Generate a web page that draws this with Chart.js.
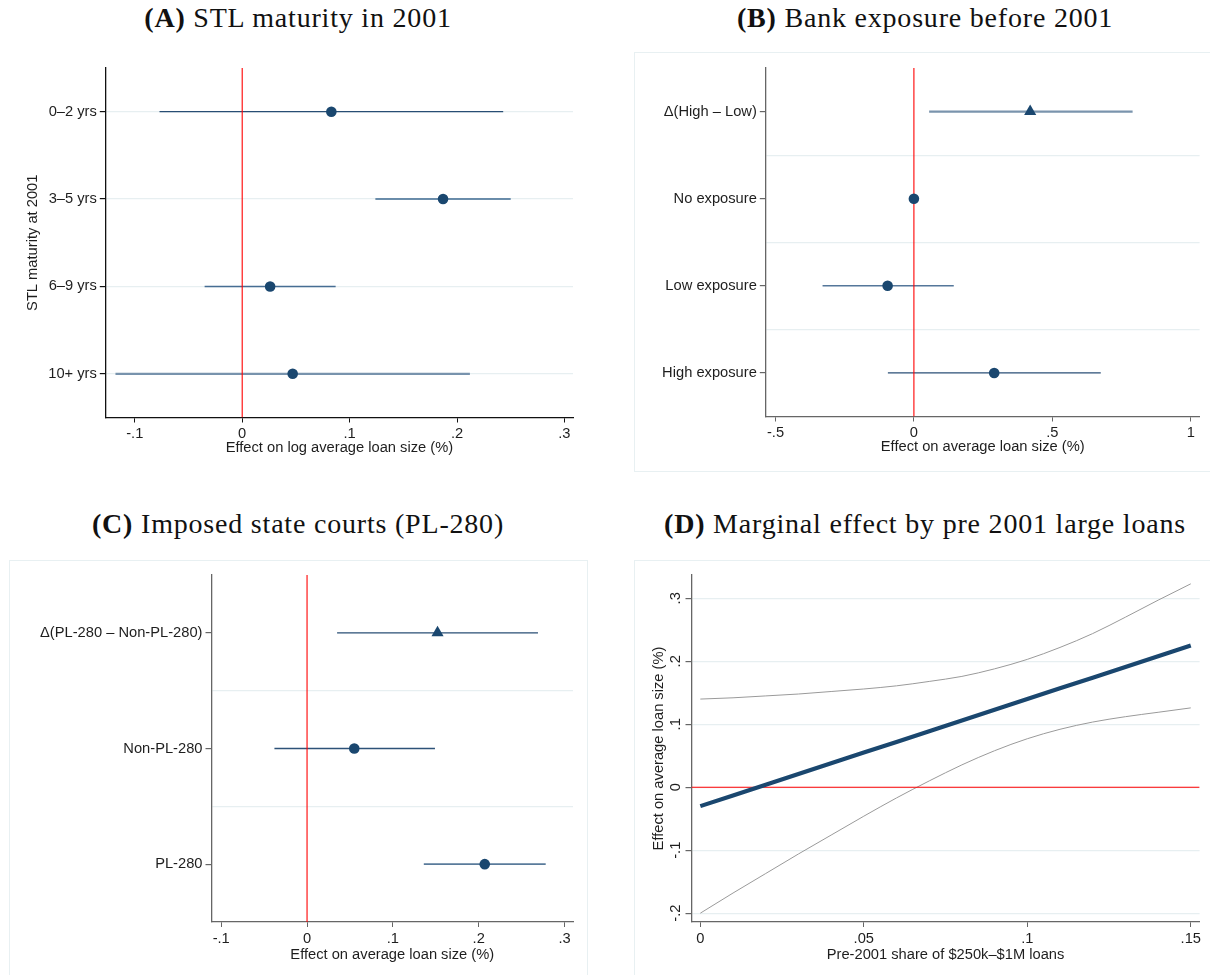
<!DOCTYPE html>
<html>
<head>
<meta charset="utf-8">
<script src="https://cdn.jsdelivr.net/npm/chart.js@4.4.1/dist/chart.umd.min.js"></script>
<style>
  html, body { margin: 0; padding: 0; background: #fff; }
  body { width: 1210px; height: 975px; position: relative; overflow: hidden; }
  .panel { position: absolute; }
  .boxed { outline: 1px solid #e8f0f2; outline-offset: -1px; }
  .title {
    position: absolute; white-space: nowrap; transform: translateX(-50%);
    font-family: "Liberation Serif", "DejaVu Serif", serif; font-size: 28px; line-height: 28px;
    letter-spacing: 0.8px; color: #111;
  }
  .title b { font-weight: bold; }
  canvas { display: block; }
</style>
</head>
<body>
<div class="title" style="left:298px; top:4px;"><b>(A)</b> STL maturity in 2001</div>
<div class="title" style="left:925px; top:4px;"><b>(B)</b> Bank exposure before 2001</div>
<div class="title" style="left:298px; top:510px;"><b>(C)</b> Imposed state courts (PL-280)</div>
<div class="title" style="left:925px; top:510px;"><b>(D)</b> Marginal effect by pre 2001 large loans</div>

<div class="panel" style="left:0px; top:40px; width:600px; height:440px;"><canvas id="cA" width="600" height="440"></canvas></div>
<div class="panel boxed" style="left:634px; top:52px; width:578px; height:420px;"><canvas id="cB" width="576" height="420"></canvas></div>
<div class="panel boxed" style="left:9px; top:560px; width:579px; height:420px;"><canvas id="cC" width="579" height="415"></canvas></div>
<div class="panel boxed" style="left:634px; top:560px; width:578px; height:420px;"><canvas id="cD" width="576" height="415"></canvas></div>

<script>
// ---- Panel A: STL maturity in 2001 ----
const stlLabels = ['0–2 yrs', '3–5 yrs', '6–9 yrs', '10+ yrs'];
const stlCoef   = [0.083, 0.187, 0.026, 0.047];
const stlLow    = [-0.077, 0.124, -0.035, -0.118];
const stlHigh   = [0.243, 0.250, 0.087, 0.212];
const stlTicks  = [-0.1, 0, 0.1, 0.2, 0.3];

// ---- Panel B: Bank exposure before 2001 ----
const expLabels = ['Δ(High – Low)', 'No exposure', 'Low exposure', 'High exposure'];
const expCoef   = [0.42, 0, -0.095, 0.29];
const expLow    = [0.055, 0, -0.33, -0.094];
const expHigh   = [0.79, 0, 0.144, 0.675];
const expTicks  = [-0.5, 0, 0.5, 1];

// ---- Panel C: Imposed state courts (PL-280) ----
const plLabels = ['Δ(PL-280 – Non-PL-280)', 'Non-PL-280', 'PL-280'];
const plCoef   = [0.152, 0.055, 0.207];
const plLow    = [0.035, -0.038, 0.136];
const plHigh   = [0.269, 0.149, 0.278];
const plTicks  = [-0.1, 0, 0.1, 0.2, 0.3];

// ---- Panel D: marginal effect along pre-2001 share of large loans ----
const shareX   = [0, 0.01, 0.02, 0.03, 0.04, 0.05, 0.06, 0.07, 0.08, 0.09, 0.10, 0.11, 0.12, 0.13, 0.14, 0.15];
const margEff  = [-0.030, -0.013, 0.004, 0.021, 0.038, 0.055, 0.072, 0.089, 0.106, 0.123, 0.140, 0.157, 0.174, 0.191, 0.208, 0.225];
const margHigh = [0.140, 0.142, 0.145, 0.148, 0.152, 0.156, 0.161, 0.168, 0.176, 0.188, 0.203, 0.222, 0.244, 0.270, 0.297, 0.323];
const margLow  = [-0.200, -0.168, -0.137, -0.106, -0.076, -0.046, -0.017, 0.010, 0.0355, 0.058, 0.077, 0.092, 0.1035, 0.112, 0.119, 0.126];
const shareTicks = [0, 0.05, 0.1, 0.15];
const effTicks   = [-0.2, -0.1, 0, 0.1, 0.2, 0.3];

const NAVY = '#1a476f';
const RED = '#ff0000';
const AXIS_FONT = { family: '"Liberation Sans", Arial, sans-serif', size: 14.7 };
const TICK_COLOR = '#1e1e1e';

// Stata-style number labels: .1, -.1, 0, .05
function stataNum(v) {
  const r = Math.round(v * 1000) / 1000;
  if (r === 0) return '0';
  return String(r).replace(/^(-?)0\./, '$1.');
}

function fixTicks(values) {
  return function (scale) { scale.ticks = values.map(v => ({ value: v })); };
}

function forestChart(id, opts) {
  const n = opts.labels.length;
  const datasets = [];
  // markers on top
  datasets.push({
    data: opts.coef.map((c, i) => ({ x: c, y: i + 1 })),
    pointStyle: opts.coef.map((c, i) => (opts.triangleRows || []).includes(i) ? 'triangle' : 'circle'),
    pointRadius: opts.coef.map((c, i) => (opts.triangleRows || []).includes(i) ? 7 : 5.3),
    backgroundColor: NAVY, borderColor: NAVY, borderWidth: 0,
    showLine: false, order: 0
  });
  // zero reference line
  datasets.push({
    data: [{ x: 0, y: 0.5 }, { x: 0, y: n + 0.5 }],
    showLine: true, borderColor: RED, borderWidth: 1.1, pointRadius: 0, order: 1
  });
  // confidence intervals
  opts.low.forEach((lo, i) => {
    if (lo === opts.high[i]) return;
    datasets.push({
      data: [{ x: lo, y: i + 1 }, { x: opts.high[i], y: i + 1 }],
      showLine: true, borderColor: opts.ciColors[i], borderWidth: opts.ciWidths[i],
      pointRadius: 0, order: 2
    });
  });

  const yTickVals = [];
  for (let k = 0; k <= 2 * n; k++) yTickVals.push(0.5 + k / 2);
  const midGrid = !!opts.midGrid;

  return new Chart(document.getElementById(id), {
    type: 'scatter',
    data: { datasets },
    options: {
      responsive: false, animation: false, devicePixelRatio: 1,
      layout: { padding: { top: opts.padTop, right: opts.padRight, left: 0, bottom: 0 } },
      plugins: { legend: { display: false }, tooltip: { enabled: false } },
      scales: {
        x: {
          type: 'linear', min: opts.xMin, max: opts.xMax,
          afterBuildTicks: fixTicks(opts.xTicks),
          afterFit: s => { s.height = opts.xAxisHeight; },
          border: { color: opts.axisColor, width: 1.3 },
          grid: { drawOnChartArea: false, drawTicks: true, tickLength: 5, tickColor: opts.axisColor, tickWidth: 1 },
          ticks: { callback: v => stataNum(v), font: AXIS_FONT, color: TICK_COLOR, padding: 3, maxRotation: 0 },
          title: { display: true, text: opts.xTitle, font: AXIS_FONT, color: TICK_COLOR, padding: { top: 0, bottom: opts.xTitlePad } }
        },
        y: {
          type: 'linear', reverse: true, min: 0.5, max: n + 0.5,
          afterBuildTicks: fixTicks(yTickVals),
          afterFit: s => { s.width = opts.yAxisWidth; },
          border: { color: opts.axisColor, width: 1.3 },
          grid: {
            drawTicks: true, tickLength: 6,
            color: ctx => {
              const v = ctx.tick ? ctx.tick.value : 0;
              if (v <= 0.5 || v >= n + 0.5) return 'rgba(0,0,0,0)';
              const isCat = Number.isInteger(v);
              return (midGrid ? !isCat : isCat) ? '#e7eff1' : 'rgba(0,0,0,0)';
            },
            tickColor: ctx => (ctx.tick && Number.isInteger(ctx.tick.value)) ? opts.axisColor : 'rgba(0,0,0,0)',
            lineWidth: 1.2
          },
          ticks: {
            callback: v => Number.isInteger(v) ? opts.labels[v - 1] : '',
            font: AXIS_FONT, color: TICK_COLOR, padding: 3, autoSkip: false
          },
          title: opts.yTitle ? { display: true, text: opts.yTitle, font: AXIS_FONT, color: TICK_COLOR, padding: { top: opts.yTitlePad, bottom: 0 } } : { display: false }
        }
      }
    }
  });
}

forestChart('cA', {
  labels: stlLabels, coef: stlCoef, low: stlLow, high: stlHigh,
  ciColors: ['#284e74', '#3e6a91', '#466d93', '#7893ad'], ciWidths: [1.3, 1.6, 1.6, 2.2],
  xMin: -0.127, xMax: 0.308, xTicks: stlTicks,
  xTitle: 'Effect on log average loan size (%)', yTitle: 'STL maturity at 2001',
  padTop: 28, padRight: 27, xAxisHeight: 62.5, yAxisWidth: 105.8, xTitlePad: 23, yTitlePad: 24,
  axisColor: '#111', midGrid: false
});

forestChart('cB', {
  labels: expLabels, coef: expCoef, low: expLow, high: expHigh, triangleRows: [0],
  ciColors: ['#7a94ad', '#1a476f', '#55779a', '#2a4f76'], ciWidths: [2.2, 1, 1.6, 1.3],
  xMin: -0.535, xMax: 1.032, xTicks: expTicks,
  xTitle: 'Effect on average loan size (%)', yTitle: null,
  padTop: 16, padRight: 10.4, xAxisHeight: 55.5, yAxisWidth: 131.8, xTitlePad: 16,
  axisColor: '#666', midGrid: true
});

forestChart('cC', {
  labels: plLabels, coef: plCoef, low: plLow, high: plHigh, triangleRows: [0],
  ciColors: ['#284e74', '#2d5278', '#5a7b9b'], ciWidths: [1.3, 1.3, 1.7],
  xMin: -0.1113, xMax: 0.3098, xTicks: plTicks,
  xTitle: 'Effect on average loan size (%)', yTitle: null,
  padTop: 15, padRight: 15, xAxisHeight: 53, yAxisWidth: 202.5, xTitlePad: 11,
  axisColor: '#666', midGrid: true
});

// Rotated y tick labels, drawn at the positions the y scale gives each tick
const rotatedYTicks = {
  id: 'rotatedYTicks',
  afterDraw(chart) {
    const y = chart.scales.y;
    const ctx = chart.ctx;
    ctx.save();
    ctx.font = '14.7px "Liberation Sans", Arial, sans-serif';
    ctx.fillStyle = TICK_COLOR;
    ctx.textAlign = 'center';
    ctx.textBaseline = 'middle';
    y.ticks.forEach(t => {
      const py = y.getPixelForValue(t.value);
      ctx.save();
      ctx.translate(y.right - 16, py);
      ctx.rotate(-Math.PI / 2);
      ctx.fillText(stataNum(t.value), 0, 0);
      ctx.restore();
    });
    ctx.restore();
  }
};

new Chart(document.getElementById('cD'), {
  type: 'scatter',
  data: {
    datasets: [
      { data: shareX.map((x, i) => ({ x, y: margEff[i] })), showLine: true, borderColor: NAVY, borderWidth: 4.2, pointRadius: 0, order: 0 },
      { data: [{ x: -0.0027, y: 0 }, { x: 0.1527, y: 0 }], showLine: true, borderColor: RED, borderWidth: 1.1, pointRadius: 0, order: 1 },
      { data: shareX.map((x, i) => ({ x, y: margHigh[i] })), showLine: true, borderColor: '#9a9a9a', borderWidth: 1, pointRadius: 0, cubicInterpolationMode: 'monotone', order: 2 },
      { data: shareX.map((x, i) => ({ x, y: margLow[i] })), showLine: true, borderColor: '#9a9a9a', borderWidth: 1, pointRadius: 0, cubicInterpolationMode: 'monotone', order: 2 }
    ]
  },
  options: {
    responsive: false, animation: false, devicePixelRatio: 1,
    layout: { padding: { top: 15, right: 10.4, left: 0, bottom: 0 } },
    plugins: { legend: { display: false }, tooltip: { enabled: false } },
    scales: {
      x: {
        type: 'linear', min: -0.0027, max: 0.1527,
        afterBuildTicks: fixTicks(shareTicks),
        afterFit: s => { s.height = 53; },
        border: { color: '#666', width: 1.3 },
        grid: { drawOnChartArea: false, tickLength: 5, tickColor: '#666' },
        ticks: { callback: v => stataNum(v), font: AXIS_FONT, color: TICK_COLOR, padding: 3, maxRotation: 0 },
        title: { display: true, text: 'Pre-2001 share of $250k–$1M loans', font: AXIS_FONT, color: TICK_COLOR, padding: { top: 0, bottom: 11 } }
      },
      y: {
        type: 'linear', min: -0.214, max: 0.337,
        afterBuildTicks: fixTicks(effTicks),
        afterFit: s => { s.width = 57.5; },
        border: { color: '#666', width: 1.3 },
        grid: { color: '#e7eff1', lineWidth: 1.2, tickLength: 6, tickColor: '#666' },
        ticks: { callback: v => stataNum(v), font: AXIS_FONT, color: 'rgba(0,0,0,0)', padding: 3 },
        title: { display: true, text: 'Effect on average loan size (%)', font: AXIS_FONT, color: TICK_COLOR, padding: { top: 16, bottom: 0 } }
      }
    }
  },
  plugins: [rotatedYTicks]
});
</script>
</body>
</html>
